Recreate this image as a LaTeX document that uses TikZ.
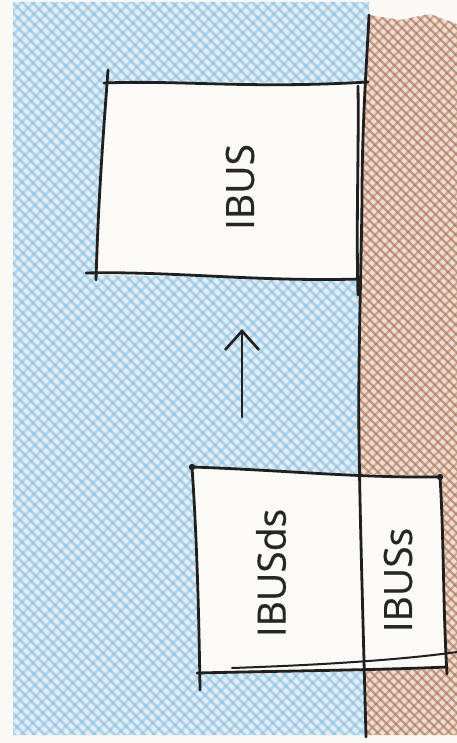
\documentclass[tikz,border=0pt]{standalone}
\usepackage{fontspec}
\setmainfont{Open Sans}[FakeBold=0.4]
\usetikzlibrary{arrows.meta}
\definecolor{paper}{HTML}{FAF9F5}
\definecolor{bluebg}{HTML}{E2EEF6}
\definecolor{bluehatch}{HTML}{7FB8DC}
\definecolor{brownbg}{HTML}{EEDFD4}
\definecolor{brownhatch}{HTML}{A86D4F}
\definecolor{boxfill}{HTML}{FBFAF6}
\tikzset{
  ink/.style={line width=2.8pt, black!88, line cap=round, line join=round},
  lbl/.style={font=\fontsize{39}{39}\selectfont, rotate=90, inner sep=0pt, text=black!85},
  bhatch/.style={bluehatch, line width=2.6pt, opacity=.55},
  rhatch/.style={brownhatch, line width=2.4pt, opacity=.6},
}
\begin{document}
\begin{tikzpicture}[x=1pt,y=-1pt]
\fill[paper] (0,0) rectangle (457,743);
\useasboundingbox (0,0) rectangle (457,743);
\def\divider{(369,15) .. controls (367,60) and (362,120) .. (362,200) .. controls (361,280) and (358,360) .. (359,440) .. controls (360,520) and (363,620) .. (366,737)}
% blue region
\begin{scope}
  \clip (13,2) -- (369,2) -- (369,15) .. controls (367,60) and (362,120) .. (362,200) .. controls (361,280) and (358,360) .. (359,440) .. controls (360,520) and (363,620) .. (366,735) -- (13,735) -- cycle;
  \fill[bluebg] (0,0) rectangle (457,743);
  \foreach \i in {-760,-750,...,460} \draw[bhatch] (\i,0) -- ++(760,760);
  \foreach \i in {-300,-288,...,1200} \draw[bhatch, opacity=.4] (\i,0) -- ++(-760,760);
\end{scope}
% brown region
\begin{scope}
  \clip (369,15) .. controls (367,60) and (362,120) .. (362,200) .. controls (361,280) and (358,360) .. (359,440) .. controls (360,520) and (363,620) .. (366,735) -- (457,735) -- (457,24) -- (430,14) -- (400,20) -- cycle;
  \fill[brownbg] (300,0) rectangle (457,743);
  \foreach \i in {-760,-751,...,460} \draw[rhatch] (\i,0) -- ++(760,760);
  \foreach \i in {-300,-290,...,1300} \draw[rhatch, opacity=.45] (\i,0) -- ++(-760,760);
\end{scope}
% white boxes
\fill[boxfill] (107,82) -- (366,83) -- (358,279) -- (96,275) -- cycle;
\fill[boxfill] (192,467) -- (440,477) -- (446,669) -- (199,673) -- cycle;
% divider line
\draw[ink] \divider;
% IBUS box
\draw[ink] (104,83) .. controls (180,80) and (250,89) .. (368,82);
\draw[ink] (108,70) -- (107,84) .. controls (102,150) and (98,210) .. (96,280);
\draw[ink] (86,273) .. controls (170,271) and (260,282) .. (360,279);
\draw[ink] (358,86) .. controls (359,150) and (356,220) .. (358,295);
% lower box
\draw[ink] (192,467) .. controls (280,470) and (360,478) .. (440,477);
\draw[ink] (192,467) .. controls (197,540) and (199,620) .. (200,690);
\draw[ink] (197,673) .. controls (280,671) and (380,670) .. (447,667);
\draw[ink, line width=2pt] (232,668) .. controls (320,665) and (400,660) .. (457,652);
\draw[ink] (440,477) .. controls (444,540) and (443,610) .. (447,674);
\fill[black!88] (192,467) circle (3.2);
\fill[black!88] (440,477) circle (3.2);
% arrow
\coordinate (arrS) at (242,417);
\coordinate (arrE) at (242,329);
\draw[ink, -{Straight Barb[length=19pt,width=34pt,line width=2.6pt]}] (arrS) -- (arrE);
% labels
\node[lbl] (ibus) at (240,187) {IBUS};
\node[lbl] (ibusds) at (271,573) {IBUSds};
\node[lbl] (ibuss) at (398,580) {IBUSs};
\end{tikzpicture}
\end{document}
